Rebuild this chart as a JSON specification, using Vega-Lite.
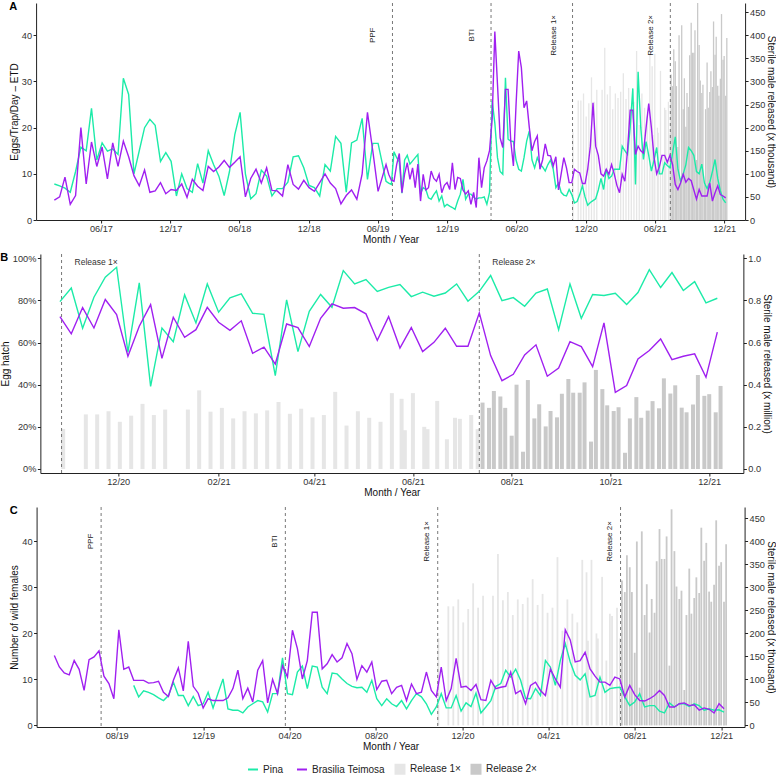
{
"$schema":"https://vega.github.io/schema/vega-lite/v6.json",
"padding":{"left":0,"top":0,"right":0,"bottom":0},
"spacing":6,
"center":true,
"config":{"view":{"stroke":null},"font":"Liberation Sans",
"axis":{"grid":false,"domainColor":"#222","tickColor":"#222","tickSize":3,"labelFontSize":9.2,"labelColor":"#333","titleFontSize":10,"titleFontWeight":"normal","titleColor":"#111","labelPadding":1.5,"titlePadding":2},
"axisX":{"titlePadding":1},
"title":{"fontSize":11,"fontWeight":"bold","anchor":"start","frame":"bounds","offset":-9,"color":"#000"}},
"datasets":{
"a":[
{"date":"2017-01-29","Pina":7.8,"Brasilia Teimosa":4.3},{"date":"2017-02-12","Pina":7.4,"Brasilia Teimosa":5.0},{"date":"2017-02-26","Pina":6.9,"Brasilia Teimosa":9.3},{"date":"2017-03-12","Pina":6.0,"Brasilia Teimosa":3.4},{"date":"2017-03-26","Pina":10.5,"Brasilia Teimosa":5.3},{"date":"2017-04-09","Pina":15.8,"Brasilia Teimosa":20.0},{"date":"2017-04-23","Pina":15.0,"Brasilia Teimosa":7.8},{"date":"2017-05-07","Pina":24.2,"Brasilia Teimosa":16.9},{"date":"2017-05-21","Pina":13.0,"Brasilia Teimosa":11.6},{"date":"2017-06-04","Pina":16.7,"Brasilia Teimosa":15.8},{"date":"2017-06-18","Pina":14.9,"Brasilia Teimosa":8.9},{"date":"2017-07-02","Pina":15.4,"Brasilia Teimosa":16.7},{"date":"2017-07-16","Pina":14.2,"Brasilia Teimosa":11.6},{"date":"2017-07-30","Pina":30.7,"Brasilia Teimosa":17.1},{"date":"2017-08-13","Pina":27.2,"Brasilia Teimosa":13.7},{"date":"2017-08-27","Pina":10.0,"Brasilia Teimosa":9.6},{"date":"2017-09-10","Pina":15.0,"Brasilia Teimosa":7.4},{"date":"2017-09-24","Pina":20.0,"Brasilia Teimosa":10.8},{"date":"2017-10-08","Pina":21.8,"Brasilia Teimosa":6.0},{"date":"2017-10-22","Pina":20.5,"Brasilia Teimosa":6.3},{"date":"2017-11-05","Pina":12.7,"Brasilia Teimosa":8.1},{"date":"2017-11-19","Pina":14.6,"Brasilia Teimosa":5.7},{"date":"2017-12-03","Pina":12.7,"Brasilia Teimosa":6.6},{"date":"2017-12-17","Pina":5.2,"Brasilia Teimosa":6.4},{"date":"2017-12-31","Pina":10.0,"Brasilia Teimosa":7.8},{"date":"2018-01-14","Pina":6.8,"Brasilia Teimosa":4.9},{"date":"2018-01-28","Pina":6.0,"Brasilia Teimosa":8.8},{"date":"2018-02-11","Pina":12.2,"Brasilia Teimosa":7.3},{"date":"2018-02-25","Pina":8.0,"Brasilia Teimosa":6.4},{"date":"2018-03-11","Pina":15.0,"Brasilia Teimosa":11.6},{"date":"2018-03-25","Pina":12.0,"Brasilia Teimosa":10.5},{"date":"2018-04-08","Pina":9.5,"Brasilia Teimosa":11.5},{"date":"2018-04-22","Pina":5.3,"Brasilia Teimosa":12.9},{"date":"2018-05-06","Pina":10.5,"Brasilia Teimosa":11.4},{"date":"2018-05-20","Pina":18.5,"Brasilia Teimosa":12.5},{"date":"2018-06-03","Pina":23.3,"Brasilia Teimosa":13.7},{"date":"2018-06-17","Pina":10.0,"Brasilia Teimosa":5.0},{"date":"2018-07-01","Pina":4.6,"Brasilia Teimosa":9.0},{"date":"2018-07-15","Pina":5.7,"Brasilia Teimosa":11.0},{"date":"2018-07-29","Pina":10.8,"Brasilia Teimosa":8.0},{"date":"2018-08-12","Pina":9.5,"Brasilia Teimosa":11.3},{"date":"2018-08-26","Pina":5.2,"Brasilia Teimosa":6.4},{"date":"2018-09-09","Pina":6.8,"Brasilia Teimosa":6.3},{"date":"2018-09-23","Pina":6.8,"Brasilia Teimosa":5.2},{"date":"2018-10-07","Pina":8.2,"Brasilia Teimosa":12.0},{"date":"2018-10-21","Pina":13.7,"Brasilia Teimosa":7.7},{"date":"2018-11-04","Pina":13.9,"Brasilia Teimosa":6.7},{"date":"2018-11-18","Pina":11.3,"Brasilia Teimosa":8.6},{"date":"2018-12-02","Pina":7.5,"Brasilia Teimosa":7.0},{"date":"2018-12-16","Pina":7.0,"Brasilia Teimosa":6.2},{"date":"2018-12-30","Pina":5.2,"Brasilia Teimosa":8.1},{"date":"2019-01-13","Pina":12.0,"Brasilia Teimosa":10.0},{"date":"2019-01-27","Pina":10.6,"Brasilia Teimosa":8.0},{"date":"2019-02-10","Pina":18.1,"Brasilia Teimosa":6.8},{"date":"2019-02-24","Pina":16.6,"Brasilia Teimosa":3.5},{"date":"2019-03-10","Pina":6.0,"Brasilia Teimosa":5.3},{"date":"2019-03-24","Pina":16.7,"Brasilia Teimosa":6.5},{"date":"2019-04-07","Pina":17.3,"Brasilia Teimosa":4.5},{"date":"2019-04-21","Pina":22.0,"Brasilia Teimosa":10.0},{"date":"2019-05-05","Pina":8.8,"Brasilia Teimosa":23.3},{"date":"2019-05-19","Pina":16.6,"Brasilia Teimosa":15.0},{"date":"2019-06-02","Pina":16.6,"Brasilia Teimosa":6.2},
{"date":"2019-06-23","Pina":8.4,"Brasilia Teimosa":12.0},{"date":"2019-06-30","Pina":8.0,"Brasilia Teimosa":9.9},{"date":"2019-07-07","Pina":7.7,"Brasilia Teimosa":8.6},{"date":"2019-07-14","Pina":14.8,"Brasilia Teimosa":8.4},{"date":"2019-07-21","Pina":13.5,"Brasilia Teimosa":12.0},{"date":"2019-07-28","Pina":12.6,"Brasilia Teimosa":14.4},{"date":"2019-08-04","Pina":5.8,"Brasilia Teimosa":5.9},{"date":"2019-08-11","Pina":13.0,"Brasilia Teimosa":10.0},{"date":"2019-08-18","Pina":14.0,"Brasilia Teimosa":12.4},{"date":"2019-08-25","Pina":12.1,"Brasilia Teimosa":8.8},{"date":"2019-09-01","Pina":12.8,"Brasilia Teimosa":11.3},{"date":"2019-09-08","Pina":13.5,"Brasilia Teimosa":7.0},{"date":"2019-09-15","Pina":14.2,"Brasilia Teimosa":12.1},{"date":"2019-09-22","Pina":5.7,"Brasilia Teimosa":4.1},{"date":"2019-09-29","Pina":7.0,"Brasilia Teimosa":9.9},{"date":"2019-10-06","Pina":6.6,"Brasilia Teimosa":6.5},{"date":"2019-10-13","Pina":4.8,"Brasilia Teimosa":7.0},{"date":"2019-10-20","Pina":4.5,"Brasilia Teimosa":10.6},{"date":"2019-10-27","Pina":5.5,"Brasilia Teimosa":9.0},{"date":"2019-11-03","Pina":6.3,"Brasilia Teimosa":8.4},{"date":"2019-11-10","Pina":4.1,"Brasilia Teimosa":9.9},{"date":"2019-11-17","Pina":5.2,"Brasilia Teimosa":5.9},{"date":"2019-11-24","Pina":2.9,"Brasilia Teimosa":7.5},{"date":"2019-12-01","Pina":3.4,"Brasilia Teimosa":8.1},{"date":"2019-12-08","Pina":3.0,"Brasilia Teimosa":6.6},{"date":"2019-12-15","Pina":2.7,"Brasilia Teimosa":12.4},{"date":"2019-12-22","Pina":2.3,"Brasilia Teimosa":6.6},{"date":"2019-12-29","Pina":4.1,"Brasilia Teimosa":9.2},{"date":"2020-01-05","Pina":5.6,"Brasilia Teimosa":9.0},{"date":"2020-01-12","Pina":8.8,"Brasilia Teimosa":6.5},{"date":"2020-01-19","Pina":4.5,"Brasilia Teimosa":5.6},{"date":"2020-01-26","Pina":5.6,"Brasilia Teimosa":6.3},{"date":"2020-02-02","Pina":5.6,"Brasilia Teimosa":3.4},{"date":"2020-02-09","Pina":5.0,"Brasilia Teimosa":6.0},{"date":"2020-02-16","Pina":4.5,"Brasilia Teimosa":2.7},{"date":"2020-02-23","Pina":4.8,"Brasilia Teimosa":13.5},{"date":"2020-03-01","Pina":4.8,"Brasilia Teimosa":7.0},{"date":"2020-03-08","Pina":5.0,"Brasilia Teimosa":11.3},{"date":"2020-03-15","Pina":3.4,"Brasilia Teimosa":12.8},{"date":"2020-03-22","Pina":6.0,"Brasilia Teimosa":15.0},{"date":"2020-03-29","Pina":25.8,"Brasilia Teimosa":22.0},{"date":"2020-04-05","Pina":21.0,"Brasilia Teimosa":40.8},{"date":"2020-04-12","Pina":13.5,"Brasilia Teimosa":29.4},{"date":"2020-04-19","Pina":10.5,"Brasilia Teimosa":17.8},{"date":"2020-04-26","Pina":9.9,"Brasilia Teimosa":15.7},{"date":"2020-05-03","Pina":30.8,"Brasilia Teimosa":28.3},{"date":"2020-05-10","Pina":17.5,"Brasilia Teimosa":28.3},{"date":"2020-05-17","Pina":17.1,"Brasilia Teimosa":17.1},{"date":"2020-05-24","Pina":17.0,"Brasilia Teimosa":11.7},{"date":"2020-05-31","Pina":13.0,"Brasilia Teimosa":25.0},{"date":"2020-06-07","Pina":11.0,"Brasilia Teimosa":36.6},{"date":"2020-06-14","Pina":10.6,"Brasilia Teimosa":33.0},{"date":"2020-06-21","Pina":13.5,"Brasilia Teimosa":24.3},{"date":"2020-06-28","Pina":17.1,"Brasilia Teimosa":25.8},{"date":"2020-07-05","Pina":19.3,"Brasilia Teimosa":20.0},{"date":"2020-07-12","Pina":13.0,"Brasilia Teimosa":15.0},{"date":"2020-07-19","Pina":11.3,"Brasilia Teimosa":17.0},{"date":"2020-07-26","Pina":13.5,"Brasilia Teimosa":18.2},{"date":"2020-08-02","Pina":12.1,"Brasilia Teimosa":11.0},{"date":"2020-08-09","Pina":11.5,"Brasilia Teimosa":13.0},{"date":"2020-08-16","Pina":10.6,"Brasilia Teimosa":16.5},{"date":"2020-08-23","Pina":12.0,"Brasilia Teimosa":14.0},{"date":"2020-08-30","Pina":13.0,"Brasilia Teimosa":13.9},{"date":"2020-09-06","Pina":11.0,"Brasilia Teimosa":11.7},{"date":"2020-09-13","Pina":7.0,"Brasilia Teimosa":13.7},{"date":"2020-09-20","Pina":8.0,"Brasilia Teimosa":6.5},{"date":"2020-09-27","Pina":6.0,"Brasilia Teimosa":10.0},{"date":"2020-10-04","Pina":5.4,"Brasilia Teimosa":13.5},{"date":"2020-10-11","Pina":5.2,"Brasilia Teimosa":11.3},{"date":"2020-10-18","Pina":6.6,"Brasilia Teimosa":8.1},{"date":"2020-10-25","Pina":5.5,"Brasilia Teimosa":8.1},{"date":"2020-11-01","Pina":3.7,"Brasilia Teimosa":11.0},{"date":"2020-11-08","Pina":4.0,"Brasilia Teimosa":10.5},{"date":"2020-11-15","Pina":5.5,"Brasilia Teimosa":10.2},{"date":"2020-11-22","Pina":7.4,"Brasilia Teimosa":7.9},{"date":"2020-11-29","Pina":5.0,"Brasilia Teimosa":7.9},{"date":"2020-12-06","Pina":3.2,"Brasilia Teimosa":11.0},{"date":"2020-12-13","Pina":3.8,"Brasilia Teimosa":16.0},{"date":"2020-12-20","Pina":4.2,"Brasilia Teimosa":25.4},{"date":"2020-12-27","Pina":4.6,"Brasilia Teimosa":16.0},{"date":"2021-01-03","Pina":6.5,"Brasilia Teimosa":14.0},{"date":"2021-01-10","Pina":9.0,"Brasilia Teimosa":10.0},{"date":"2021-01-17","Pina":6.6,"Brasilia Teimosa":9.5},{"date":"2021-01-24","Pina":11.0,"Brasilia Teimosa":11.0},{"date":"2021-01-31","Pina":9.0,"Brasilia Teimosa":9.9},{"date":"2021-02-07","Pina":9.5,"Brasilia Teimosa":12.0},{"date":"2021-02-14","Pina":11.0,"Brasilia Teimosa":10.0},{"date":"2021-02-21","Pina":11.0,"Brasilia Teimosa":7.5},{"date":"2021-02-28","Pina":11.0,"Brasilia Teimosa":5.9},{"date":"2021-03-07","Pina":16.0,"Brasilia Teimosa":9.9},{"date":"2021-03-14","Pina":15.0,"Brasilia Teimosa":8.4},{"date":"2021-03-21","Pina":14.2,"Brasilia Teimosa":15.0},{"date":"2021-03-28","Pina":20.0,"Brasilia Teimosa":23.8},{"date":"2021-04-04","Pina":28.5,"Brasilia Teimosa":23.8},{"date":"2021-04-11","Pina":7.7,"Brasilia Teimosa":14.2},{"date":"2021-04-18","Pina":32.1,"Brasilia Teimosa":16.0},{"date":"2021-04-25","Pina":20.0,"Brasilia Teimosa":15.0},{"date":"2021-05-02","Pina":13.1,"Brasilia Teimosa":14.5},{"date":"2021-05-09","Pina":17.0,"Brasilia Teimosa":20.0},{"date":"2021-05-16","Pina":14.0,"Brasilia Teimosa":25.2},{"date":"2021-05-23","Pina":10.6,"Brasilia Teimosa":20.0},{"date":"2021-05-30","Pina":13.0,"Brasilia Teimosa":13.5},{"date":"2021-06-06","Pina":15.7,"Brasilia Teimosa":10.0},{"date":"2021-06-13","Pina":10.0,"Brasilia Teimosa":11.5},{"date":"2021-06-20","Pina":10.0,"Brasilia Teimosa":14.0},{"date":"2021-06-27","Pina":12.4,"Brasilia Teimosa":14.0},{"date":"2021-07-04","Pina":11.8,"Brasilia Teimosa":12.5},{"date":"2021-07-11","Pina":11.3,"Brasilia Teimosa":14.0},{"date":"2021-07-18","Pina":14.5,"Brasilia Teimosa":12.0},{"date":"2021-07-25","Pina":18.0,"Brasilia Teimosa":7.7},{"date":"2021-08-01","Pina":11.0,"Brasilia Teimosa":6.6},{"date":"2021-08-08","Pina":8.4,"Brasilia Teimosa":8.0},{"date":"2021-08-15","Pina":10.0,"Brasilia Teimosa":9.9},{"date":"2021-08-22","Pina":12.0,"Brasilia Teimosa":8.2},{"date":"2021-08-29","Pina":15.7,"Brasilia Teimosa":9.0},{"date":"2021-09-05","Pina":15.0,"Brasilia Teimosa":8.5},{"date":"2021-09-12","Pina":14.0,"Brasilia Teimosa":6.5},{"date":"2021-09-19","Pina":10.5,"Brasilia Teimosa":4.5},{"date":"2021-09-26","Pina":10.0,"Brasilia Teimosa":6.6},{"date":"2021-10-03","Pina":12.1,"Brasilia Teimosa":5.2},{"date":"2021-10-10","Pina":8.0,"Brasilia Teimosa":5.2},{"date":"2021-10-17","Pina":6.8,"Brasilia Teimosa":5.2},{"date":"2021-10-24","Pina":8.1,"Brasilia Teimosa":8.0},{"date":"2021-10-31","Pina":10.5,"Brasilia Teimosa":4.1},{"date":"2021-11-07","Pina":13.1,"Brasilia Teimosa":5.9},{"date":"2021-11-14","Pina":9.0,"Brasilia Teimosa":7.4},{"date":"2021-11-21","Pina":6.3,"Brasilia Teimosa":5.5},{"date":"2021-11-28","Pina":4.5,"Brasilia Teimosa":5.2},{"date":"2021-12-05","Pina":3.7,"Brasilia Teimosa":4.8}
],
"b":[
{"date":"2020-10-26","Pina":0.794,"Brasilia Teimosa":0.723},{"date":"2020-11-02","Pina":0.859,"Brasilia Teimosa":0.641},{"date":"2020-11-09","Pina":0.668,"Brasilia Teimosa":0.766},{"date":"2020-11-16","Pina":0.815,"Brasilia Teimosa":0.669},{"date":"2020-11-23","Pina":0.910,"Brasilia Teimosa":0.804},{"date":"2020-11-30","Pina":0.957,"Brasilia Teimosa":0.733},{"date":"2020-12-07","Pina":0.554,"Brasilia Teimosa":0.535},{"date":"2020-12-14","Pina":0.883,"Brasilia Teimosa":0.677},{"date":"2020-12-21","Pina":0.392,"Brasilia Teimosa":0.780},{"date":"2020-12-28","Pina":0.669,"Brasilia Teimosa":0.525},{"date":"2021-01-04","Pina":0.604,"Brasilia Teimosa":0.720},{"date":"2021-01-11","Pina":0.826,"Brasilia Teimosa":0.625},{"date":"2021-01-18","Pina":0.693,"Brasilia Teimosa":0.661},{"date":"2021-01-25","Pina":0.878,"Brasilia Teimosa":0.767},{"date":"2021-02-01","Pina":0.744,"Brasilia Teimosa":0.696},{"date":"2021-02-08","Pina":0.812,"Brasilia Teimosa":0.658},{"date":"2021-02-15","Pina":0.831,"Brasilia Teimosa":0.703},{"date":"2021-02-22","Pina":0.739,"Brasilia Teimosa":0.549},{"date":"2021-03-01","Pina":0.734,"Brasilia Teimosa":0.578},{"date":"2021-03-08","Pina":0.443,"Brasilia Teimosa":0.498},{"date":"2021-03-15","Pina":0.802,"Brasilia Teimosa":0.688},{"date":"2021-03-22","Pina":0.557,"Brasilia Teimosa":0.671},{"date":"2021-03-29","Pina":0.748,"Brasilia Teimosa":0.581},{"date":"2021-04-05","Pina":0.828,"Brasilia Teimosa":0.715},{"date":"2021-04-12","Pina":0.767,"Brasilia Teimosa":0.783},{"date":"2021-04-19","Pina":0.941,"Brasilia Teimosa":0.763},{"date":"2021-04-26","Pina":0.878,"Brasilia Teimosa":0.766},{"date":"2021-05-03","Pina":0.899,"Brasilia Teimosa":0.736},{"date":"2021-05-10","Pina":0.842,"Brasilia Teimosa":0.610},{"date":"2021-05-17","Pina":0.862,"Brasilia Teimosa":0.723},{"date":"2021-05-24","Pina":0.875,"Brasilia Teimosa":0.574},{"date":"2021-05-31","Pina":0.818,"Brasilia Teimosa":0.671},{"date":"2021-06-07","Pina":0.839,"Brasilia Teimosa":0.557},{"date":"2021-06-14","Pina":0.820,"Brasilia Teimosa":0.601},{"date":"2021-06-21","Pina":0.835,"Brasilia Teimosa":0.668},{"date":"2021-06-28","Pina":0.878,"Brasilia Teimosa":0.582},{"date":"2021-07-05","Pina":0.796,"Brasilia Teimosa":0.582},{"date":"2021-07-12","Pina":0.843,"Brasilia Teimosa":0.741},{"date":"2021-07-19","Pina":0.918,"Brasilia Teimosa":0.538},{"date":"2021-07-26","Pina":0.799,"Brasilia Teimosa":0.419},{"date":"2021-08-02","Pina":0.813,"Brasilia Teimosa":0.449},{"date":"2021-08-09","Pina":0.772,"Brasilia Teimosa":0.541},{"date":"2021-08-16","Pina":0.835,"Brasilia Teimosa":0.589},{"date":"2021-08-23","Pina":0.854,"Brasilia Teimosa":0.440},{"date":"2021-08-30","Pina":0.661,"Brasilia Teimosa":0.479},{"date":"2021-09-06","Pina":0.878,"Brasilia Teimosa":0.604},{"date":"2021-09-13","Pina":0.715,"Brasilia Teimosa":0.581},{"date":"2021-09-20","Pina":0.828,"Brasilia Teimosa":0.486},{"date":"2021-09-27","Pina":0.823,"Brasilia Teimosa":0.693},{"date":"2021-10-04","Pina":0.834,"Brasilia Teimosa":0.364},{"date":"2021-10-11","Pina":0.780,"Brasilia Teimosa":0.396},{"date":"2021-10-18","Pina":0.837,"Brasilia Teimosa":0.522},{"date":"2021-10-25","Pina":0.946,"Brasilia Teimosa":0.562},{"date":"2021-11-01","Pina":0.861,"Brasilia Teimosa":0.617},{"date":"2021-11-08","Pina":0.932,"Brasilia Teimosa":0.519},{"date":"2021-11-15","Pina":0.847,"Brasilia Teimosa":0.535},{"date":"2021-11-22","Pina":0.889,"Brasilia Teimosa":0.546},{"date":"2021-11-29","Pina":0.788,"Brasilia Teimosa":0.435},{"date":"2021-12-06","Pina":0.810,"Brasilia Teimosa":0.649}
],
"c":[
{"date":"2019-05-05","Brasilia Teimosa":15.2},{"date":"2019-05-12","Brasilia Teimosa":12.7},{"date":"2019-05-19","Brasilia Teimosa":11.4},{"date":"2019-05-26","Brasilia Teimosa":11.0},{"date":"2019-06-02","Brasilia Teimosa":14.1},{"date":"2019-06-09","Brasilia Teimosa":12.2},{"date":"2019-06-16","Brasilia Teimosa":7.6},{"date":"2019-06-23","Brasilia Teimosa":14.3},{"date":"2019-06-30","Brasilia Teimosa":14.9},{"date":"2019-07-07","Brasilia Teimosa":16.2},{"date":"2019-07-14","Brasilia Teimosa":10.7},{"date":"2019-07-21","Brasilia Teimosa":9.1},{"date":"2019-07-28","Brasilia Teimosa":5.8},{"date":"2019-08-04","Brasilia Teimosa":20.8},{"date":"2019-08-11","Brasilia Teimosa":12.2},{"date":"2019-08-18","Brasilia Teimosa":12.7},
{"date":"2019-08-25","Pina":8.7,"Brasilia Teimosa":9.8},{"date":"2019-09-01","Pina":6.2,"Brasilia Teimosa":9.8},{"date":"2019-09-08","Pina":7.5,"Brasilia Teimosa":9.8},{"date":"2019-09-15","Pina":7.2,"Brasilia Teimosa":9.2},{"date":"2019-09-22","Pina":6.7,"Brasilia Teimosa":9.3},{"date":"2019-09-29","Pina":6.0,"Brasilia Teimosa":9.6},{"date":"2019-10-06","Pina":5.4,"Brasilia Teimosa":7.2},{"date":"2019-10-13","Pina":6.5,"Brasilia Teimosa":6.3},{"date":"2019-10-20","Pina":9.4,"Brasilia Teimosa":9.8},{"date":"2019-10-27","Pina":6.5,"Brasilia Teimosa":12.5},{"date":"2019-11-03","Pina":6.5,"Brasilia Teimosa":7.5},{"date":"2019-11-10","Pina":4.3,"Brasilia Teimosa":18.3},{"date":"2019-11-17","Pina":6.3,"Brasilia Teimosa":8.5},{"date":"2019-11-24","Pina":4.3,"Brasilia Teimosa":7.0},{"date":"2019-12-01","Pina":4.7,"Brasilia Teimosa":3.8},{"date":"2019-12-08","Pina":7.2,"Brasilia Teimosa":5.8},{"date":"2019-12-15","Pina":3.8,"Brasilia Teimosa":5.4},{"date":"2019-12-22","Pina":7.0,"Brasilia Teimosa":5.4},{"date":"2019-12-29","Pina":10.1,"Brasilia Teimosa":5.4},{"date":"2020-01-05","Pina":3.6,"Brasilia Teimosa":6.0},{"date":"2020-01-12","Pina":3.3,"Brasilia Teimosa":8.0},{"date":"2020-01-19","Pina":3.3,"Brasilia Teimosa":12.0},{"date":"2020-01-26","Pina":2.7,"Brasilia Teimosa":5.8},{"date":"2020-02-02","Pina":4.0,"Brasilia Teimosa":8.1},{"date":"2020-02-09","Pina":4.7,"Brasilia Teimosa":5.1},{"date":"2020-02-16","Pina":5.4,"Brasilia Teimosa":12.0},{"date":"2020-02-23","Pina":5.1,"Brasilia Teimosa":14.1},{"date":"2020-03-01","Pina":2.9,"Brasilia Teimosa":4.9},{"date":"2020-03-08","Pina":6.9,"Brasilia Teimosa":10.0},{"date":"2020-03-15","Pina":6.9,"Brasilia Teimosa":6.9},{"date":"2020-03-22","Pina":14.7,"Brasilia Teimosa":13.0},{"date":"2020-03-29","Pina":6.9,"Brasilia Teimosa":10.5},{"date":"2020-04-05","Pina":6.7,"Brasilia Teimosa":20.7},{"date":"2020-04-12","Pina":11.6,"Brasilia Teimosa":16.7},{"date":"2020-04-19","Pina":12.9,"Brasilia Teimosa":10.1},{"date":"2020-04-26","Pina":8.0,"Brasilia Teimosa":14.1},{"date":"2020-05-03","Pina":12.9,"Brasilia Teimosa":24.6},{"date":"2020-05-10","Pina":12.7,"Brasilia Teimosa":24.6},{"date":"2020-05-17","Pina":8.3,"Brasilia Teimosa":12.3},{"date":"2020-05-24","Pina":6.9,"Brasilia Teimosa":13.4},{"date":"2020-05-31","Pina":11.4,"Brasilia Teimosa":15.4},{"date":"2020-06-07","Pina":11.2,"Brasilia Teimosa":13.8},{"date":"2020-06-14","Pina":10.1,"Brasilia Teimosa":14.7},{"date":"2020-06-21","Pina":9.1,"Brasilia Teimosa":17.8},{"date":"2020-06-28","Pina":8.5,"Brasilia Teimosa":15.6},{"date":"2020-07-05","Pina":8.2,"Brasilia Teimosa":10.0},{"date":"2020-07-12","Pina":8.3,"Brasilia Teimosa":13.0},{"date":"2020-07-19","Pina":7.2,"Brasilia Teimosa":11.6},{"date":"2020-07-26","Pina":9.8,"Brasilia Teimosa":13.8},{"date":"2020-08-02","Pina":5.8,"Brasilia Teimosa":7.8},{"date":"2020-08-09","Pina":4.3,"Brasilia Teimosa":9.6},{"date":"2020-08-16","Pina":5.8,"Brasilia Teimosa":9.8},{"date":"2020-08-23","Pina":4.7,"Brasilia Teimosa":6.9},{"date":"2020-08-30","Pina":4.1,"Brasilia Teimosa":8.3},{"date":"2020-09-06","Pina":5.4,"Brasilia Teimosa":8.7},{"date":"2020-09-13","Pina":3.6,"Brasilia Teimosa":5.4},{"date":"2020-09-20","Pina":5.4,"Brasilia Teimosa":9.0},{"date":"2020-09-27","Pina":6.9,"Brasilia Teimosa":6.9},{"date":"2020-10-04","Pina":6.2,"Brasilia Teimosa":7.2},{"date":"2020-10-11","Pina":4.7,"Brasilia Teimosa":11.6},{"date":"2020-10-18","Pina":2.4,"Brasilia Teimosa":7.6},{"date":"2020-10-25","Pina":4.0,"Brasilia Teimosa":6.2},{"date":"2020-11-01","Pina":6.9,"Brasilia Teimosa":12.7},{"date":"2020-11-08","Pina":3.8,"Brasilia Teimosa":5.4},{"date":"2020-11-15","Pina":3.8,"Brasilia Teimosa":8.0},{"date":"2020-11-22","Pina":6.5,"Brasilia Teimosa":14.6},{"date":"2020-11-29","Pina":3.1,"Brasilia Teimosa":8.3},{"date":"2020-12-06","Pina":4.9,"Brasilia Teimosa":8.5},{"date":"2020-12-13","Pina":4.1,"Brasilia Teimosa":7.6},{"date":"2020-12-20","Pina":7.0,"Brasilia Teimosa":8.9},{"date":"2020-12-27","Pina":2.7,"Brasilia Teimosa":5.6},{"date":"2021-01-03","Pina":4.0,"Brasilia Teimosa":5.4},{"date":"2021-01-10","Pina":5.4,"Brasilia Teimosa":9.8},{"date":"2021-01-17","Pina":8.5,"Brasilia Teimosa":8.0},{"date":"2021-01-24","Pina":9.1,"Brasilia Teimosa":8.3},{"date":"2021-01-31","Pina":12.0,"Brasilia Teimosa":8.5},{"date":"2021-02-07","Pina":10.5,"Brasilia Teimosa":11.6},{"date":"2021-02-14","Pina":12.2,"Brasilia Teimosa":6.9},{"date":"2021-02-21","Pina":9.8,"Brasilia Teimosa":7.6},{"date":"2021-02-28","Pina":5.9,"Brasilia Teimosa":4.7},{"date":"2021-03-07","Pina":5.8,"Brasilia Teimosa":8.7},{"date":"2021-03-14","Pina":8.0,"Brasilia Teimosa":9.4},{"date":"2021-03-21","Pina":6.5,"Brasilia Teimosa":7.6},{"date":"2021-03-28","Pina":14.1,"Brasilia Teimosa":6.5},{"date":"2021-04-04","Pina":12.7,"Brasilia Teimosa":12.3},{"date":"2021-04-11","Pina":8.7,"Brasilia Teimosa":10.1},{"date":"2021-04-18","Pina":14.1,"Brasilia Teimosa":8.3},{"date":"2021-04-25","Pina":17.8,"Brasilia Teimosa":20.8},{"date":"2021-05-02","Pina":13.8,"Brasilia Teimosa":18.6},{"date":"2021-05-09","Pina":10.9,"Brasilia Teimosa":13.8},{"date":"2021-05-16","Pina":9.9,"Brasilia Teimosa":14.1},{"date":"2021-05-23","Pina":11.2,"Brasilia Teimosa":15.9},{"date":"2021-05-30","Pina":6.2,"Brasilia Teimosa":12.3},{"date":"2021-06-06","Pina":6.5,"Brasilia Teimosa":10.7},{"date":"2021-06-13","Pina":10.5,"Brasilia Teimosa":9.4},{"date":"2021-06-20","Pina":7.2,"Brasilia Teimosa":9.4},{"date":"2021-06-27","Pina":8.0,"Brasilia Teimosa":8.7},{"date":"2021-07-04","Pina":8.2,"Brasilia Teimosa":10.5},{"date":"2021-07-11","Pina":8.3,"Brasilia Teimosa":10.1},{"date":"2021-07-18","Pina":6.2,"Brasilia Teimosa":6.2},{"date":"2021-07-25","Pina":4.3,"Brasilia Teimosa":8.7},{"date":"2021-08-01","Pina":5.1,"Brasilia Teimosa":6.7},{"date":"2021-08-08","Pina":6.9,"Brasilia Teimosa":5.4},{"date":"2021-08-15","Pina":4.0,"Brasilia Teimosa":5.3},{"date":"2021-08-22","Pina":4.3,"Brasilia Teimosa":5.8},{"date":"2021-08-29","Pina":4.3,"Brasilia Teimosa":6.5},{"date":"2021-09-05","Pina":3.1,"Brasilia Teimosa":7.6},{"date":"2021-09-12","Pina":2.7,"Brasilia Teimosa":6.5},{"date":"2021-09-19","Pina":4.9,"Brasilia Teimosa":4.0},{"date":"2021-09-26","Pina":4.0,"Brasilia Teimosa":4.0},{"date":"2021-10-03","Pina":4.7,"Brasilia Teimosa":4.7},{"date":"2021-10-10","Pina":4.7,"Brasilia Teimosa":4.9},{"date":"2021-10-17","Pina":4.1,"Brasilia Teimosa":4.3},{"date":"2021-10-24","Pina":4.7,"Brasilia Teimosa":4.5},{"date":"2021-10-31","Pina":4.3,"Brasilia Teimosa":3.3},{"date":"2021-11-07","Pina":3.3,"Brasilia Teimosa":3.8},{"date":"2021-11-14","Pina":3.6,"Brasilia Teimosa":3.5},{"date":"2021-11-21","Pina":3.3,"Brasilia Teimosa":2.7},{"date":"2021-11-28","Pina":3.4,"Brasilia Teimosa":4.7},{"date":"2021-12-05","Pina":2.9,"Brasilia Teimosa":3.6}
],
"rel":[
{"date":"2020-10-28","group":"Release 1×","released":190},{"date":"2020-11-11","group":"Release 1×","released":259},{"date":"2020-11-18","group":"Release 1×","released":259},{"date":"2020-11-25","group":"Release 1×","released":274},{"date":"2020-12-02","group":"Release 1×","released":224},{"date":"2020-12-09","group":"Release 1×","released":253},{"date":"2020-12-16","group":"Release 1×","released":309},{"date":"2020-12-23","group":"Release 1×","released":256},{"date":"2020-12-30","group":"Release 1×","released":282},{"date":"2021-01-13","group":"Release 1×","released":282},{"date":"2021-01-20","group":"Release 1×","released":373},{"date":"2021-01-27","group":"Release 1×","released":272},{"date":"2021-02-03","group":"Release 1×","released":290},{"date":"2021-02-10","group":"Release 1×","released":240},{"date":"2021-02-17","group":"Release 1×","released":274},{"date":"2021-02-24","group":"Release 1×","released":264},{"date":"2021-03-03","group":"Release 1×","released":278},{"date":"2021-03-10","group":"Release 1×","released":318},{"date":"2021-03-17","group":"Release 1×","released":262},{"date":"2021-03-24","group":"Release 1×","released":286},{"date":"2021-03-31","group":"Release 1×","released":245},{"date":"2021-04-07","group":"Release 1×","released":256},{"date":"2021-04-14","group":"Release 1×","released":366},{"date":"2021-04-21","group":"Release 1×","released":206},{"date":"2021-04-28","group":"Release 1×","released":274},{"date":"2021-05-05","group":"Release 1×","released":243},{"date":"2021-05-12","group":"Release 1×","released":224},{"date":"2021-05-19","group":"Release 1×","released":360},{"date":"2021-05-25","group":"Release 1×","released":333},{"date":"2021-05-27","group":"Release 1×","released":184},{"date":"2021-06-01","group":"Release 1×","released":360},{"date":"2021-06-08","group":"Release 1×","released":200},{"date":"2021-06-10","group":"Release 1×","released":189},{"date":"2021-06-16","group":"Release 1×","released":323},{"date":"2021-06-22","group":"Release 1×","released":141},{"date":"2021-06-27","group":"Release 1×","released":243},{"date":"2021-06-30","group":"Release 1×","released":238},{"date":"2021-07-07","group":"Release 1×","released":256},{"date":"2021-07-11","group":"Release 1×","released":189},
{"date":"2021-07-14","group":"Release 2×","released":315},{"date":"2021-07-18","group":"Release 2×","released":290},{"date":"2021-07-21","group":"Release 2×","released":370},{"date":"2021-07-25","group":"Release 2×","released":344},{"date":"2021-07-28","group":"Release 2×","released":290},{"date":"2021-08-01","group":"Release 2×","released":158},{"date":"2021-08-04","group":"Release 2×","released":400},{"date":"2021-08-08","group":"Release 2×","released":82},{"date":"2021-08-11","group":"Release 2×","released":422},{"date":"2021-08-15","group":"Release 2×","released":240},{"date":"2021-08-18","group":"Release 2×","released":307},{"date":"2021-08-22","group":"Release 2×","released":202},{"date":"2021-08-25","group":"Release 2×","released":275},{"date":"2021-08-29","group":"Release 2×","released":245},{"date":"2021-09-01","group":"Release 2×","released":357},{"date":"2021-09-05","group":"Release 2×","released":427},{"date":"2021-09-08","group":"Release 2×","released":362},{"date":"2021-09-12","group":"Release 2×","released":362},{"date":"2021-09-15","group":"Release 2×","released":411},{"date":"2021-09-19","group":"Release 2×","released":130},{"date":"2021-09-22","group":"Release 2×","released":470},{"date":"2021-09-26","group":"Release 2×","released":379},{"date":"2021-09-29","group":"Release 2×","released":302},{"date":"2021-10-03","group":"Release 2×","released":275},{"date":"2021-10-06","group":"Release 2×","released":293},{"date":"2021-10-10","group":"Release 2×","released":77},{"date":"2021-10-13","group":"Release 2×","released":240},{"date":"2021-10-17","group":"Release 2×","released":341},{"date":"2021-10-20","group":"Release 2×","released":243},{"date":"2021-10-24","group":"Release 2×","released":277},{"date":"2021-10-27","group":"Release 2×","released":322},{"date":"2021-10-31","group":"Release 2×","released":288},{"date":"2021-11-03","group":"Release 2×","released":430},{"date":"2021-11-07","group":"Release 2×","released":358},{"date":"2021-11-10","group":"Release 2×","released":397},{"date":"2021-11-14","group":"Release 2×","released":291},{"date":"2021-11-17","group":"Release 2×","released":269},{"date":"2021-11-21","group":"Release 2×","released":306},{"date":"2021-11-24","group":"Release 2×","released":446},{"date":"2021-11-28","group":"Release 2×","released":347},{"date":"2021-12-01","group":"Release 2×","released":355},{"date":"2021-12-05","group":"Release 2×","released":269},{"date":"2021-12-08","group":"Release 2×","released":394}
],
"ev4":[{"event":"PPF","date":"2019-07-10"},{"event":"BTI","date":"2020-03-26"},{"event":"Release 1×","date":"2020-10-27"},{"event":"Release 2×","date":"2021-07-12"}],
"ev2":[{"event":"Release 1×","date":"2020-10-27"},{"event":"Release 2×","date":"2021-07-12"}]
},
"vconcat":[
{"title":{"text":"A"},"width":709,"height":217,
"layer":[
{"data":{"name":"rel"},"mark":{"type":"bar","size":1.3},
"encoding":{
"x":{"field":"date","type":"temporal","title":"Month / Year","scale":{"type":"utc","domain":[{"year":2016,"month":12,"date":25,"utc":true},{"year":2022,"month":1,"date":12,"utc":true}]},
"axis":{"labelExpr":"utcFormat(datum.value, '%m/%y')","values":[{"year":2017,"month":6,"date":1,"utc":true},{"year":2017,"month":12,"date":1,"utc":true},{"year":2018,"month":6,"date":1,"utc":true},{"year":2018,"month":12,"date":1,"utc":true},{"year":2019,"month":6,"date":1,"utc":true},{"year":2019,"month":12,"date":1,"utc":true},{"year":2020,"month":6,"date":1,"utc":true},{"year":2020,"month":12,"date":1,"utc":true},{"year":2021,"month":6,"date":1,"utc":true},{"year":2021,"month":12,"date":1,"utc":true}]}},
"y":{"field":"released","type":"quantitative","scale":{"domain":[0,470],"nice":false},"axis":{"orient":"right","titlePadding":1,"values":[0,50,100,150,200,250,300,350,400,450],"title":"Sterile male released (x thousand)"}},
"color":{"field":"group","type":"nominal","title":null,
"scale":{"domain":["Pina","Brasilia Teimosa","Release 1×","Release 2×"],"range":["#1CEBA8","#A020F0","#E6E6E6","#C9C9C9"]},
"legend":{"orient":"none","legendX":212,"legendY":761,"direction":"horizontal","title":null,"labelFontSize":10,"labelColor":"#222","symbolSize":121,"labelOffset":5,"columnPadding":9,"symbolType":"square",
"encode":{"symbols":{"update":{
"shape":{"signal":"indexof(['Pina','Brasilia Teimosa'], datum.value) >= 0 ? 'stroke' : 'square'"},
"size":{"signal":"indexof(['Pina','Brasilia Teimosa'], datum.value) >= 0 ? 100 : 121"},
"fill":{"signal":"indexof(['Pina','Brasilia Teimosa'], datum.value) >= 0 ? 'transparent' : scale('color', datum.value)"},
"stroke":{"signal":"indexof(['Pina','Brasilia Teimosa'], datum.value) >= 0 ? scale('color', datum.value) : 'transparent'"},
"strokeWidth":{"signal":"indexof(['Pina','Brasilia Teimosa'], datum.value) >= 0 ? 2 : 0"},
"opacity":{"value":1}}}}}}
}},
{"layer":[
{"data":{"name":"ev4"},"mark":{"type":"rule","strokeDash":[3,3],"color":"#555","strokeWidth":0.8},"encoding":{"x":{"field":"date","type":"temporal","title":"Month / Year"}}},
{"data":{"name":"ev4"},"mark":{"type":"text","angle":270,"align":"center","baseline":"middle","dy":-19,"fontSize":8,"color":"#222"},"encoding":{"x":{"field":"date","type":"temporal","title":"Month / Year"},"y":{"datum":40},"text":{"field":"event"}}},
{"data":{"name":"a"},"transform":[{"fold":["Pina","Brasilia Teimosa"],"as":["group","value"]}],"mark":{"type":"line","strokeWidth":1.4},
"encoding":{"x":{"field":"date","type":"temporal","title":"Month / Year"},
"y":{"field":"value","type":"quantitative","scale":{"domain":[0,47],"nice":false},"axis":{"orient":"left","values":[0,10,20,30,40],"title":"Eggs/Trap/Day – ETD"}},
"color":{"field":"group","type":"nominal","title":null,"scale":{"domain":["Pina","Brasilia Teimosa","Release 1×","Release 2×"],"range":["#1CEBA8","#A020F0","#E6E6E6","#C9C9C9"]}}}}
]}
],
"resolve":{"scale":{"y":"independent"}}},
{"title":{"text":"B"},"width":703,"height":219,
"layer":[
{"data":{"name":"rel"},"mark":{"type":"bar","size":4},
"encoding":{
"x":{"field":"date","type":"temporal","title":"Month / Year","scale":{"type":"utc","domain":[{"year":2020,"month":10,"date":17,"utc":true},{"year":2021,"month":12,"date":19,"utc":true}]},
"axis":{"labelExpr":"utcFormat(datum.value, '%m/%y')","values":[{"year":2020,"month":12,"date":1,"utc":true},{"year":2021,"month":2,"date":1,"utc":true},{"year":2021,"month":4,"date":1,"utc":true},{"year":2021,"month":6,"date":1,"utc":true},{"year":2021,"month":8,"date":1,"utc":true},{"year":2021,"month":10,"date":1,"utc":true},{"year":2021,"month":12,"date":1,"utc":true}]}},
"y":{"field":"released","type":"quantitative","scale":{"domain":[-19,1020],"nice":false,"zero":false},"axis":{"orient":"right","titlePadding":1,"values":[0,200,400,600,800,1000],"labelExpr":"format(datum.value/1000,'.1f')","title":"Sterile male released (x million)"}},
"color":{"field":"group","type":"nominal","title":null,"scale":{"domain":["Pina","Brasilia Teimosa","Release 1×","Release 2×"],"range":["#1CEBA8","#A020F0","#E6E6E6","#C9C9C9"]}}
}},
{"layer":[
{"data":{"name":"ev2"},"mark":{"type":"rule","strokeDash":[3,3],"color":"#555","strokeWidth":0.8},"encoding":{"x":{"field":"date","type":"temporal","title":"Month / Year"}}},
{"data":{"name":"ev2"},"mark":{"type":"text","align":"left","baseline":"middle","dx":13,"fontSize":8.5,"color":"#333"},"encoding":{"x":{"field":"date","type":"temporal","title":"Month / Year"},"y":{"datum":0.98},"text":{"field":"event"}}},
{"data":{"name":"b"},"transform":[{"fold":["Pina","Brasilia Teimosa"],"as":["group","value"]}],"mark":{"type":"line","strokeWidth":1.4},
"encoding":{"x":{"field":"date","type":"temporal","title":"Month / Year"},
"y":{"field":"value","type":"quantitative","scale":{"domain":[-0.019,1.02],"nice":false,"zero":false},"axis":{"orient":"left","values":[0,0.2,0.4,0.6,0.8,1],"format":".0%","title":"Egg hatch"}},
"color":{"field":"group","type":"nominal","title":null,"scale":{"domain":["Pina","Brasilia Teimosa","Release 1×","Release 2×"],"range":["#1CEBA8","#A020F0","#E6E6E6","#C9C9C9"]}}}}
]}
],
"resolve":{"scale":{"y":"independent"}}},
{"title":{"text":"C"},"width":708,"height":220,
"layer":[
{"data":{"name":"rel"},"mark":{"type":"bar","size":1.8},
"encoding":{
"x":{"field":"date","type":"temporal","title":"Month / Year","scale":{"type":"utc","domain":[{"year":2019,"month":4,"date":17,"utc":true},{"year":2021,"month":12,"date":27,"utc":true}]},
"axis":{"labelExpr":"utcFormat(datum.value, '%m/%y')","values":[{"year":2019,"month":8,"date":1,"utc":true},{"year":2019,"month":12,"date":1,"utc":true},{"year":2020,"month":4,"date":1,"utc":true},{"year":2020,"month":8,"date":1,"utc":true},{"year":2020,"month":12,"date":1,"utc":true},{"year":2021,"month":4,"date":1,"utc":true},{"year":2021,"month":8,"date":1,"utc":true},{"year":2021,"month":12,"date":1,"utc":true}]}},
"y":{"field":"released","type":"quantitative","scale":{"domain":[-3.5,475],"nice":false,"zero":false},"axis":{"orient":"right","titlePadding":1,"values":[0,50,100,150,200,250,300,350,400,450],"title":"Sterile male released (x thousand)"}},
"color":{"field":"group","type":"nominal","title":null,"scale":{"domain":["Pina","Brasilia Teimosa","Release 1×","Release 2×"],"range":["#1CEBA8","#A020F0","#E6E6E6","#C9C9C9"]}}
}},
{"layer":[
{"data":{"name":"ev4"},"mark":{"type":"rule","strokeDash":[3,3],"color":"#555","strokeWidth":0.8},"encoding":{"x":{"field":"date","type":"temporal","title":"Month / Year"}}},
{"data":{"name":"ev4"},"mark":{"type":"text","angle":270,"align":"center","baseline":"middle","dy":-10.5,"fontSize":8,"color":"#222"},"encoding":{"x":{"field":"date","type":"temporal","title":"Month / Year"},"y":{"datum":40},"text":{"field":"event"}}},
{"data":{"name":"c"},"transform":[{"fold":["Pina","Brasilia Teimosa"],"as":["group","value"]}],"mark":{"type":"line","strokeWidth":1.4},
"encoding":{"x":{"field":"date","type":"temporal","title":"Month / Year"},
"y":{"field":"value","type":"quantitative","scale":{"domain":[-0.35,47.5],"nice":false,"zero":false},"axis":{"orient":"left","values":[0,10,20,30,40],"title":"Number of wild females"}},
"color":{"field":"group","type":"nominal","title":null,"scale":{"domain":["Pina","Brasilia Teimosa","Release 1×","Release 2×"],"range":["#1CEBA8","#A020F0","#E6E6E6","#C9C9C9"]}}}}
]}
],
"resolve":{"scale":{"y":"independent"}}}
]
}
